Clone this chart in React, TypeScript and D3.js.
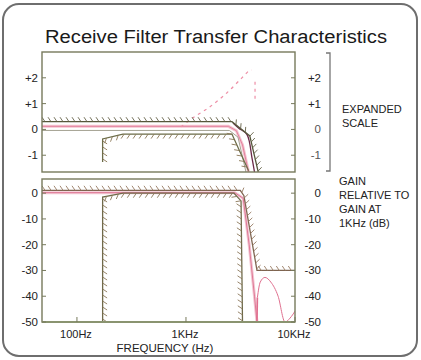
import React from "react";
import * as d3 from "d3";

// ---------- data ----------
const xTickValues = [100, 1000, 10000];
const xTickLabels = ["100Hz", "1KHz", "10KHz"];
const topTickValues = [2, 1, 0, -1];
const topTickLabels = ["+2", "+1", "0", "-1"];
const bottomTickValues = [0, -10, -20, -30, -40, -50];
const bottomTickLabels = ["0", "-10", "-20", "-30", "-40", "-50"];

// expanded scale panel (dB)
const topUpperMask: [number, number][] = [[47.8, 0.3], [2640, 0.3], [3850, -0.25], [4600, -1.65]];
const topLowerMask: [number, number][] = [[172, -1.26], [172, -0.37], [264, -0.18], [2640, -0.18], [3750, -1.6]];
const topResponsePink: [number, number][] = [[47.8, 0.12], [2450, 0.12], [2900, -0.05], [3300, -0.6], [3750, -1.65]];
const topResponseGray: [number, number][] = [[47.8, -0.04], [2500, -0.04], [3000, -0.3], [3550, -1.65]];
const topResponseDark: [number, number][] = [[2700, 0.25], [3050, 0.05], [3630, -0.2], [4030, -1.1], [4250, -1.65]];
const topDashed: [number, number][] = [[900, 0.1], [1160, 0.45], [1660, 0.88], [2380, 1.42], [3260, 2.0], [3870, 2.3], [4000, 2.3]];
const topDashedDrop: [number, number][] = [[4300, 1.85], [4300, 1.03]];

// full scale panel (dB)
const bottomUpperMask: [number, number][] = [[47.8, 1.1], [3150, 1.1], [3400, -1], [4480, -30], [10000, -30]];
const bottomLowerMask: [number, number][] = [[172, -50], [172, -1.5], [265, 0], [2750, 0], [3200, -3], [3300, -50]];
const bottomResponse: [number, number][] = [[47.8, 0.2], [2800, 0.2], [3350, -2], [3800, -20], [4250, -40], [4480, -50]];
const bottomLobe: [number, number][] = [[4480, -50], [4520, -40.5], [4800, -34.5], [5300, -32.7], [6000, -34.5], [7000, -40], [8100, -50], [9000, -48.5], [10000, -45.8]];

// ---------- helpers ----------
type Pt = [number, number];

function hatchPath(pts: Pt[], side: 1 | -1, spacing = 6, len = 4.5, lean = 3): string {
  let d = "";
  let carry = spacing / 2;
  for (let i = 0; i < pts.length - 1; i++) {
    const [x0, y0] = pts[i];
    const [x1, y1] = pts[i + 1];
    const segLen = Math.hypot(x1 - x0, y1 - y0);
    if (segLen === 0) continue;
    const tx = (x1 - x0) / segLen;
    const ty = (y1 - y0) / segLen;
    const nx = side === 1 ? -ty : ty;
    const ny = side === 1 ? tx : -tx;
    let s = carry;
    while (s <= segLen) {
      const px = x0 + tx * s;
      const py = y0 + ty * s;
      const ex = px + nx * len - tx * lean;
      const ey = py + ny * len - ty * lean;
      d += `M${px.toFixed(1)},${py.toFixed(1)}L${ex.toFixed(1)},${ey.toFixed(1)}`;
      s += spacing;
    }
    carry = s - segLen;
  }
  return d;
}

export default function App() {
  const W = 421;
  const H = 360;
  const left = 42;
  const right = 295;
  const top1 = 52, bot1 = 172;
  const top2 = 179, bot2 = 322;

  const x = d3.scaleLog().domain([47.8, 10000]).range([left, right]);
  const yTop = d3.scaleLinear().domain([-1.65, 3.0]).range([bot1, top1]);
  const yBot = d3.scaleLinear().domain([-50, 5.5]).range([bot2, top2]);

  const proj = (data: [number, number][], y: d3.ScaleLinear<number, number>): Pt[] =>
    data.map(([f, v]) => [x(f), y(v)] as Pt);
  const line = d3.line<Pt>().x((d) => d[0]).y((d) => d[1]);
  const smooth = d3.line<Pt>().x((d) => d[0]).y((d) => d[1]).curve(d3.curveMonotoneX);
  const smoothAny = d3.line<Pt>().x((d) => d[0]).y((d) => d[1]).curve(d3.curveCatmullRom.alpha(0.5));

  const tU = proj(topUpperMask, yTop);
  const tL = proj(topLowerMask, yTop);
  const bU = proj(bottomUpperMask, yBot);
  const bL = proj(bottomLowerMask, yBot);

  const font = "'Liberation Sans', Arial, sans-serif";
  const frame = "#77795c";

  return (
    <svg width={W} height={H} style={{ position: "absolute", left: 0, top: 0, background: "#fff" }} fontFamily={font}>
      <rect x={3} y={4} width={414} height={352} rx={16} fill="#fff" stroke="#6e6e6e" strokeWidth={2} />
      <text x={216} y={43} textAnchor="middle" fontSize={18} fill="#1a1a1a" textLength={342} lengthAdjust="spacingAndGlyphs">
        Receive Filter Transfer Characteristics
      </text>

      <defs>
        <clipPath id="c1"><rect x={left} y={top1} width={right - left} height={bot1 - top1} /></clipPath>
        <clipPath id="c2"><rect x={left} y={top2} width={right - left} height={bot2 - top2} /></clipPath>
      </defs>

      {/* ---- top panel ---- */}
      <g clipPath="url(#c1)" fill="none">
        <path d={line(proj(topResponsePink, yTop)) || ""} stroke="#f5c3cf" strokeWidth={3} />
        <path d={line(proj(topResponsePink, yTop)) || ""} stroke="#e07b97" strokeWidth={0.9} />
        <path d={line(proj(topResponseGray, yTop)) || ""} stroke="#a4a292" strokeWidth={1} />
        <path d={smoothAny(proj(topResponseDark, yTop)) || ""} stroke="#6a2a48" strokeWidth={1.3} />
        <path d={smoothAny(proj(topDashed, yTop)) || ""} stroke="#ee8fa6" strokeWidth={1.2} strokeDasharray="3,4" />
        <path d={line(proj(topDashedDrop, yTop)) || ""} stroke="#ee8fa6" strokeWidth={1.2} strokeDasharray="3,4" />
        <path d={line(tU) || ""} stroke="#55563a" strokeWidth={1.3} />
        <path d={hatchPath(tU, -1)} stroke="#66634a" strokeWidth={0.9} />
        <path d={line(tL) || ""} stroke="#6b6c48" strokeWidth={1.3} />
        <path d={hatchPath(tL, 1)} stroke="#8a7656" strokeWidth={0.9} />
      </g>
      <rect x={left} y={top1} width={right - left} height={bot1 - top1} fill="none" stroke={frame} strokeWidth={1.4} />

      {/* ---- bottom panel ---- */}
      <g clipPath="url(#c2)" fill="none">
        <path d={line(proj(bottomResponse, yBot)) || ""} stroke="#f3c6d2" strokeWidth={3} />
        <path d={line(proj(bottomResponse, yBot)) || ""} stroke="#dd6f8e" strokeWidth={0.9} />
        <path d={smooth(proj(bottomLobe, yBot).slice(1)) || ""} stroke="#e0708f" strokeWidth={1} />
        <path d={line(proj(bottomLobe, yBot).slice(0, 2)) || ""} stroke="#e0708f" strokeWidth={1.6} />
        <path d={line(bU) || ""} stroke="#7e6450" strokeWidth={1.3} />
        <path d={hatchPath(bU, -1)} stroke="#967a62" strokeWidth={0.9} />
        <path d={line(bL) || ""} stroke="#6f6a4a" strokeWidth={1.3} />
        <path d={hatchPath(bL, 1)} stroke="#8a7658" strokeWidth={0.9} />
      </g>
      <rect x={left} y={top2} width={right - left} height={bot2 - top2} fill="none" stroke={frame} strokeWidth={1.4} />
      <line x1={left} x2={right} y1={bot2} y2={bot2} stroke="#8a9470" strokeWidth={2} />

      {topTickValues.map((v, i) => (
        <g key={"tt" + i}>
          <line x1={left} x2={left + 4} y1={yTop(v)} y2={yTop(v)} stroke={frame} />
          <line x1={right - 4} x2={right} y1={yTop(v)} y2={yTop(v)} stroke={frame} />
          <text x={38} y={yTop(v) + 4} textAnchor="end" fontSize={11.5} fill="#222">{topTickLabels[i]}</text>
          <text x={321} y={yTop(v) + 4} textAnchor="end" fontSize={11.5} fill={v <= 0 ? "#555" : "#222"}>{topTickLabels[i]}</text>
        </g>
      ))}

      {bottomTickValues.map((v, i) => (
        <g key={"bt" + i}>
          <line x1={left} x2={left + 4} y1={yBot(v)} y2={yBot(v)} stroke={frame} />
          <line x1={right - 4} x2={right} y1={yBot(v)} y2={yBot(v)} stroke={frame} />
          <text x={38} y={yBot(v) + 4} textAnchor="end" fontSize={11.5} fill="#222">{bottomTickLabels[i]}</text>
          <text x={321} y={yBot(v) + 4} textAnchor="end" fontSize={11.5} fill="#222">{bottomTickLabels[i]}</text>
        </g>
      ))}

      {xTickValues.map((f, i) => (
        <g key={"xt" + i}>
          <line x1={x(f)} x2={x(f)} y1={bot2} y2={bot2 - 5} stroke={frame} />
          <text x={x(f) - 1} y={338} textAnchor="middle" fontSize={11} fill="#222">{xTickLabels[i]}</text>
        </g>
      ))}
      <text x={165} y={352} textAnchor="middle" fontSize={11.5} fill="#222">FREQUENCY (Hz)</text>

      <path d="M326,53 L330,53 L330,171 L326,171" fill="none" stroke="#777" strokeWidth={1.3} />
      <text x={342} y={113} fontSize={11} fill="#222">EXPANDED</text>
      <text x={342} y={127} fontSize={11} fill="#222">SCALE</text>
      <text x={339} y={185} fontSize={11} fill="#222">GAIN</text>
      <text x={339} y={199} fontSize={11} fill="#222">RELATIVE TO</text>
      <text x={339} y={213} fontSize={11} fill="#222">GAIN AT</text>
      <text x={339} y={227} fontSize={11} fill="#222">1KHz (dB)</text>
    </svg>
  );
}
